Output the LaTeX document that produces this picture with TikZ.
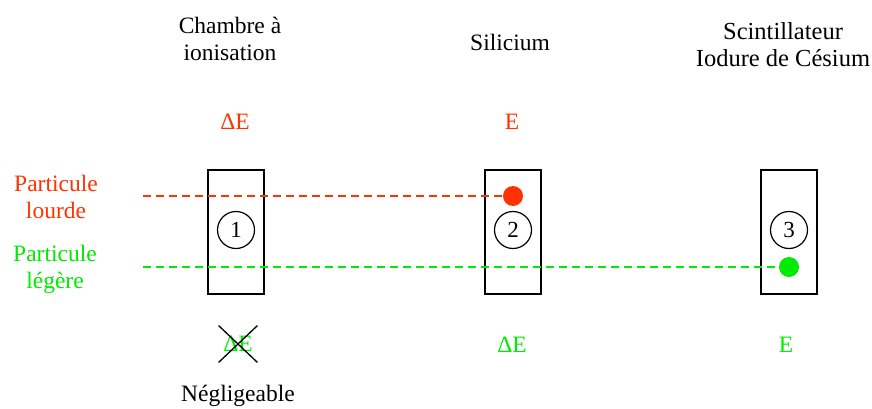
\documentclass[tikz,border=0pt]{standalone}
\usepackage{fontspec}
\setmainfont{Liberation Serif}
\usetikzlibrary{shapes.misc}
\definecolor{heavyred}{RGB}{255,51,0}
\definecolor{lightgreen}{RGB}{0,235,0}
\tikzset{
  txt/.style={font=\fontsize{23.5}{27}\selectfont, align=center, inner sep=0pt},
  detector/.style={draw, line width=1.5pt, minimum width=56pt, minimum height=124pt, inner sep=0pt},
  numcircle/.style={circle, draw, line width=1.2pt, minimum size=37pt, inner sep=0pt, font=\fontsize{23}{24}\selectfont},
  dot/.style={circle, minimum size=20pt, inner sep=0pt},
  beam/.style={line width=1.5pt, dash pattern=on 8pt off 5pt}
}
\begin{document}
\begin{tikzpicture}[x=1pt, y=-1pt]
  \useasboundingbox (0,0) rectangle (872,409);
  % Detectors with their numbers
  \foreach \i/\x in {1/236, 2/513, 3/789} {
    \node[detector] (box\i) at (\x,232) {};
    \node[numcircle] (num\i) at (\x,230) {\i};
  }
  % Detector names
  \node[txt] (name1) at (230,39) {Chambre à\\ionisation};
  \node[txt] (name2) at (510,42) {Silicium};
  \node[txt, font=\fontsize{24.5}{27}\selectfont] (name3) at (783,45) {Scintillateur\\Iodure de Césium};
  % Particles
  \node[txt, text=heavyred] (heavy) at (56,197) {Particule\\lourde};
  \node[txt, text=lightgreen] (light) at (55,269) {Particule\\légère};
  % Stopping points
  \node[dot, fill=heavyred] (stopheavy) at (513,196) {};
  \node[dot, fill=lightgreen] (stoplight) at (789,267) {};
  \coordinate (startheavy) at (143,196);
  \coordinate (startlight) at (143,267);
  \draw[heavyred, beam] (startheavy) -- (stopheavy);
  \draw[lightgreen, beam] (startlight) -- (stoplight);
  % Energy losses
  \node[txt, text=heavyred] (eheavy1) at (235,122) {ΔE};
  \node[txt, text=heavyred] (eheavy2) at (512,122) {E};
  \node[txt, text=lightgreen, cross out, draw=black, line width=1.3pt,
    inner xsep=4pt, inner ysep=10pt] (elight1) at (238,344) {ΔE};
  \node[txt, text=lightgreen] (elight2) at (512,345) {ΔE};
  \node[txt, text=lightgreen] (elight3) at (786,345) {E};
  \node[txt] (negl) at (238,396) {Négligeable};
\end{tikzpicture}
\end{document}
